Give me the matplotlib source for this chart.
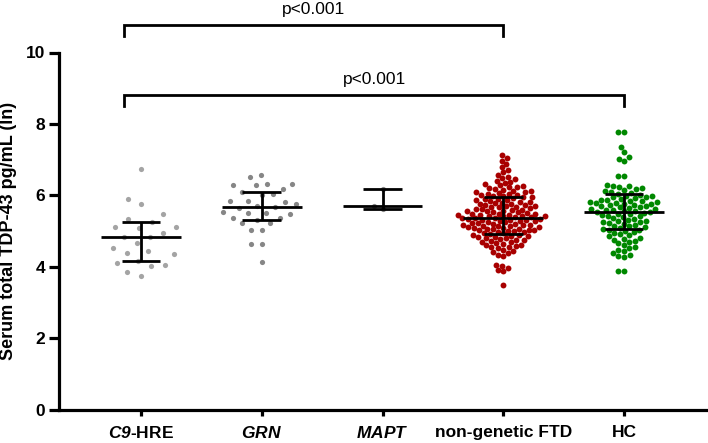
import numpy as np
import matplotlib
matplotlib.use("Agg")
import matplotlib.pyplot as plt

plt.rcParams["font.family"] = ["Liberation Sans", "DejaVu Sans"]
plt.rcParams["mathtext.fontset"] = "custom"
plt.rcParams["mathtext.it"] = "Liberation Sans:italic:bold"
plt.rcParams["mathtext.rm"] = "Liberation Sans:italic:bold"

# ── data (ln pg/mL) ──────────────────────────────────────────────────────────
groups = [r"$\mathit{C9}$-HRE", r"$\mathit{GRN}$", r"$\mathit{MAPT}$",
          "non-genetic FTD", "HC"]

c9_vals = [6.75, 5.90, 5.76, 5.49, 5.34, 5.26, 5.09, 5.12, 5.12, 4.93, 4.83,
           4.83, 4.66, 4.52, 4.44, 4.39, 4.35, 4.17, 4.10, 4.02, 4.06, 3.85, 3.75]

grn_vals = [6.58, 6.52, 6.32, 6.28, 6.32, 6.17, 6.29, 6.10, 6.04, 6.01, 5.84,
            5.82, 5.84, 5.75, 5.69, 5.66, 5.64, 5.50, 5.50, 5.54, 5.48, 5.37,
            5.37, 5.22, 5.31, 5.23, 5.03, 5.03, 4.64, 4.64, 4.14]

mapt_vals = [6.19, 5.71, 5.63]

ftd_vals = [7.13, 7.05, 6.97, 6.88, 6.79, 6.72, 6.64, 6.58, 6.52,
            6.48, 6.45, 6.41, 6.38, 6.34, 6.31, 6.28, 6.26,
            6.24, 6.22, 6.21, 6.18, 6.16, 6.13, 6.12, 6.10, 6.08, 6.07, 6.05,
            6.04, 6.02, 6.01,
            5.99, 5.97, 5.96, 5.94, 5.92, 5.91, 5.89, 5.87, 5.86, 5.84, 5.82,
            5.81, 5.79, 5.78, 5.77, 5.76,
            5.74, 5.73, 5.71, 5.70, 5.68, 5.67, 5.66, 5.64, 5.63, 5.61, 5.60,
            5.59, 5.57, 5.56, 5.55, 5.53, 5.52, 5.51,
            5.49, 5.48, 5.48, 5.46, 5.45, 5.45, 5.43, 5.42, 5.41, 5.41, 5.39,
            5.38, 5.37, 5.36, 5.36, 5.34, 5.33, 5.31, 5.31, 5.30, 5.29, 5.28,
            5.27, 5.26,
            5.24, 5.23, 5.22, 5.21, 5.20, 5.18, 5.18, 5.17, 5.15, 5.14, 5.13,
            5.12, 5.11, 5.09, 5.08, 5.07, 5.06, 5.05, 5.04, 5.03, 5.02, 5.01,
            4.99, 4.97, 4.96, 4.94, 4.93, 4.91, 4.90, 4.88, 4.86, 4.85, 4.83,
            4.82, 4.80, 4.79, 4.77, 4.76,
            4.74, 4.72, 4.70, 4.68, 4.66, 4.64, 4.62, 4.60, 4.58, 4.56, 4.54,
            4.51,
            4.48, 4.44, 4.41, 4.37, 4.33, 4.29,
            4.06, 4.03, 3.97, 3.91, 3.88, 3.49]

hc_vals = [7.78, 7.76, 7.34, 7.20, 7.06, 7.02, 6.96, 6.55, 6.54,
           6.29, 6.27, 6.25, 6.22, 6.20, 6.17, 6.15, 6.12, 6.10, 6.07, 6.05,
           6.02,
           5.99, 5.97, 5.95, 5.94, 5.92, 5.90, 5.88, 5.87, 5.85, 5.83, 5.82,
           5.80, 5.79, 5.78, 5.77, 5.76,
           5.74, 5.72, 5.70, 5.69, 5.67, 5.66, 5.64, 5.62, 5.61, 5.59, 5.58,
           5.56, 5.55, 5.53, 5.52, 5.51,
           5.49, 5.47, 5.45, 5.43, 5.41, 5.38, 5.36, 5.34, 5.31, 5.29, 5.27,
           5.26,
           5.24, 5.22, 5.20, 5.17, 5.15, 5.13, 5.10, 5.08, 5.06, 5.04, 5.02,
           5.01,
           4.98, 4.95, 4.91, 4.88, 4.85, 4.81, 4.78, 4.76,
           4.73, 4.69, 4.65, 4.60, 4.56, 4.52,
           4.48, 4.43, 4.38, 4.33, 4.29, 4.26,
           3.88, 3.88]

all_vals = [c9_vals, grn_vals, mapt_vals, ftd_vals, hc_vals]

# median and interquartile range shown by the black bars
medians = [4.84, 5.68, 5.71, 5.36, 5.52]
q1 = [4.16, 5.31, 5.63, 4.92, 5.05]
q3 = [5.26, 6.10, 6.19, 5.96, 6.03]

brackets = [(0, 3), (0, 4)]
bracket_y = [10.77, 8.81]
p_labels = ["p<0.001", "p<0.001"]

colors = ["#a4a4a4", "#868686", "#868686", "#a80000", "#008800"]
spacing_px = [14, 11, 9, 5.6, 6.0]   # point spacing for the swarm


def beeswarm(vals, d, sx, sy):
    """greedy swarm offsets (in x data units)"""
    y = np.asarray(vals, dtype=float) * sy
    xs = np.zeros(len(y))
    placed = []
    for i in np.argsort(y):
        cands = [0.0]
        for px, py in placed:
            dy = abs(y[i] - py)
            if dy < d:
                w = np.sqrt(d * d - dy * dy)
                cands += [px - w, px + w]
        cands.sort(key=abs)
        for c in cands:
            if all((c - px) ** 2 + (y[i] - py) ** 2 >= d * d - 1e-6
                   for px, py in placed):
                xs[i] = c
                break
        placed.append((xs[i], y[i]))
    return xs / sx


# ── figure ───────────────────────────────────────────────────────────────────
fig = plt.figure(figsize=(7.08, 4.43), dpi=100)
ax = fig.add_axes([59 / 708, 33.5 / 443, 1 - 59 / 708, 357 / 443])
ax.set_xlim(-0.678, 4.694)
ax.set_ylim(0, 10)

bbox = ax.get_window_extent()
sx = bbox.width / (4.694 + 0.678)
sy = bbox.height / 10

for i, vals in enumerate(all_vals):
    off = beeswarm(vals, spacing_px[i], sx, sy)
    ax.scatter(i + off, vals, s=18 if i >= 3 else 14, color=colors[i],
               linewidths=0, zorder=2, clip_on=False)

# median + IQR bars
x = np.arange(len(groups))
ax.hlines(medians, x - 0.33, x + 0.33, color="black", lw=2, zorder=3)
ax.hlines(q1, x - 0.16, x + 0.16, color="black", lw=2, zorder=3)
ax.hlines(q3, x - 0.16, x + 0.16, color="black", lw=2, zorder=3)
ax.vlines(x, q1, q3, color="black", lw=2, zorder=3)

# significance brackets
for (a, b), yb, lab in zip(brackets, bracket_y, p_labels):
    xa = a - 0.14
    ax.plot([xa, xa, b, b], [yb - 0.31, yb, yb, yb - 0.31], color="black",
            lw=2, clip_on=False, solid_joinstyle="miter")
    ax.text((xa + b) / 2, yb + 0.22, lab, ha="center", va="bottom",
            fontsize=12.5, clip_on=False)

# axes styling
for s in ["top", "right"]:
    ax.spines[s].set_visible(False)
for s in ["left", "bottom"]:
    ax.spines[s].set_linewidth(2.3)

ax.set_yticks(np.arange(0, 11, 2))
ax.tick_params(axis="y", direction="out", length=7.5, width=2.3, pad=2.5,
               labelsize=12.5)
ax.tick_params(axis="x", direction="out", length=4, width=2.3, pad=7,
               labelsize=12.5)
ax.set_xticks(x)
ax.set_xticklabels(groups)
for lbl in ax.get_xticklabels() + ax.get_yticklabels():
    lbl.set_fontweight("bold")

ax.set_ylabel("Serum total TDP-43 pg/mL (ln)", fontsize=13, fontweight="bold",
              labelpad=6)

fig.savefig("out.png", dpi=100)
